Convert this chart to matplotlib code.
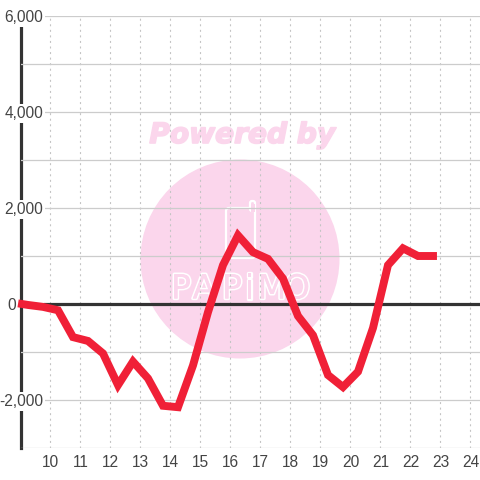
import matplotlib
matplotlib.use("Agg")
import matplotlib.pyplot as plt
import matplotlib.patheffects as pe
from matplotlib.patches import Circle, FancyBboxPatch, Rectangle
from matplotlib.ticker import FuncFormatter, MultipleLocator

plt.rcParams['font.family'] = ['Liberation Sans', 'DejaVu Sans']

hours = [9.05, 9.25, 9.75, 10.25, 10.75, 11.25, 11.75, 12.25, 12.75, 13.25, 13.75, 14.25, 14.75,
         15.25, 15.75, 16.25, 16.75, 17.25, 17.75, 18.25, 18.75, 19.25, 19.75, 20.25, 20.75,
         21.25, 21.75, 22.25, 22.75]
values = [0, -20, -60, -130, -690, -770, -1030, -1690, -1200, -1550, -2120, -2150, -1280,
          -170, 810, 1430, 1080, 940, 530, -250, -650, -1480, -1730, -1410, -500,
          810, 1160, 1000, 1000]
x_ticks = list(range(10, 25))
y_ticks = [-2000, 0, 2000, 4000, 6000]

PINK = '#fbd6ec'
TEXT = '#444444'

fig = plt.figure(figsize=(4.8, 4.8), dpi=100)

# watermark sits behind the chart, drawn in pixel coordinates
bg = fig.add_axes([0, 0, 1, 1], zorder=0)
bg.set_xlim(0, 480)
bg.set_ylim(480, 0)
bg.axis('off')
bg.add_patch(Circle((240, 259), 99.5, fc=PINK, ec='none'))
bg.text(242, 135, 'Powered by', color=PINK, fontsize=20.2, family='DejaVu Sans',
        weight='bold', style='italic', ha='center', va='center',
        path_effects=[pe.withStroke(linewidth=1.2, foreground=PINK)])
bg.add_patch(FancyBboxPatch((226, 208), 29, 50, boxstyle='round,pad=0,rounding_size=3',
                            fc='none', ec='white', lw=1.6))
bg.add_patch(FancyBboxPatch((250, 201), 5, 10, boxstyle='round,pad=0,rounding_size=2',
                            fc=PINK, ec='white', lw=1.6))
bg.add_patch(Rectangle((251, 204), 3.5, 8, fc=PINK, ec='none'))
for lx, letter in zip([181, 204, 232, 249, 272, 297], 'PAPiMO'):
    bg.text(lx, 289, letter, color=PINK, fontsize=24, family='Liberation Sans Narrow',
            ha='center', va='center',
            path_effects=[pe.withStroke(linewidth=2.4, foreground='white'),
                          pe.Normal()])

ax = fig.add_axes([20.5 / 480, 32 / 480, 459.5 / 480, 432 / 480], zorder=1)
ax.patch.set_alpha(0)
ax.set_xlim(9, 24.317)
ax.set_ylim(-3000, 6000)
ax.set_axisbelow(False)

ax.set_yticks(y_ticks)
ax.yaxis.set_minor_locator(MultipleLocator(1000))
# zero gets its own label further left, see below
ax.yaxis.set_major_formatter(FuncFormatter(lambda v, _: f'{int(v):,}' if v != 0 else ''))
ax.set_xticks(x_ticks)

ax.grid(axis='y', which='both', color='#cccccc', lw=0.9)
ax.grid(axis='x', color='#c4c4c4', lw=0.8, linestyle=(0, (1.8, 3.2)))

for side in ['top', 'right', 'bottom']:
    ax.spines[side].set_visible(False)
ax.spines['left'].set_color('#333333')
ax.spines['left'].set_linewidth(2.3)

ax.tick_params(axis='both', which='both', length=0, labelsize=11.2, labelcolor=TEXT)
ax.tick_params(axis='y', pad=-16.5)
ax.tick_params(axis='x', pad=5)

fig.canvas.draw()
for label in ax.get_yticklabels():
    label.set_bbox(dict(fc='white', ec='none', pad=1.4))
ax.text(-0.0098, 0, '0', transform=ax.get_yaxis_transform(), ha='right', va='center_baseline',
        fontsize=11.2, color=TEXT, clip_on=False)

ax.axhline(0, xmin=0.0533, color='#333333', lw=2.3, zorder=2.6)
ax.plot(hours, values, color='#f02037', lw=5.7, solid_joinstyle='miter',
        solid_capstyle='projecting', zorder=3, clip_on=False)

fig.savefig('out.png', dpi=100)
